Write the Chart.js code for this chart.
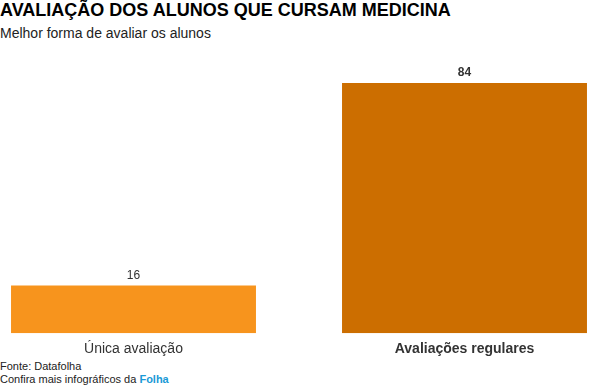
<!DOCTYPE html>
<html>
<head>
<meta charset="utf-8">
<script src="https://cdn.jsdelivr.net/npm/chart.js@4"></script>
<style>
  body { margin:0; width:590px; height:387px; overflow:hidden; background:#fff; position:relative; font-family:"Liberation Sans", Arial, sans-serif; }
  #title { position:absolute; left:0; top:0px; font-size:18px; font-weight:bold; color:#000; white-space:nowrap; }
  #sub { position:absolute; left:0; top:25px; font-size:14px; color:#222; white-space:nowrap; }
  #box { position:absolute; left:-32px; top:55px; width:662px; height:303px; }
  #foot { position:absolute; left:0; top:360px; font-size:11px; color:#222; line-height:13px; }
  #foot b { color:#1a9ad6; }
</style>
</head>
<body>
<div id="title">AVALIAÇÃO DOS ALUNOS QUE CURSAM MEDICINA</div>
<div id="sub">Melhor forma de avaliar os alunos</div>
<div id="box"><canvas id="mycanvas"></canvas></div>
<div id="foot">Fonte: Datafolha<br>Confira mais infográficos da <b>Folha</b></div>
<script>
var categories = ["Única avaliação", "Avaliações regulares"];
var values = [16, 84];
var barColors = ["#F7941D", "#CC6E00"];

// draws the value above each bar
var valueLabels = {
    id : "valueLabels",
    afterDatasetsDraw : function(chart){
        var ctx = chart.ctx;
        var meta = chart.getDatasetMeta(0);
        ctx.save();
        ctx.textAlign = "center";
        ctx.textBaseline = "bottom";
        ctx.fillStyle = "#333";
        meta.data.forEach(function(bar, i){
            ctx.font = (i == 1 ? "bold " : "") + "12px 'Liberation Sans', Arial, sans-serif";
            ctx.fillText(values[i], bar.x, bar.y - 4);
        });
        ctx.restore();
    }
};

var chardata = {
    labels : categories,
    datasets : [
        {
            data : values,
            backgroundColor : barColors,
            barPercentage : 1,
            categoryPercentage : 0.74
        }
    ]
};

var LineGraph = new Chart(document.getElementById("mycanvas"), {
    type : "bar",
    data : chardata,
    plugins : [valueLabels],
    options : {
        responsive : true,
        maintainAspectRatio : false,
        animation : false,
        layout : { padding : { top : 28, left : 0, right : 0, bottom : 0 } },
        plugins : { legend : { display : false }, tooltip : { enabled : false } },
        scales : {
            x : {
                grid : { display : false },
                border : { display : false },
                ticks : {
                    color : "#333",
                    padding : 0,
                    font : function(c){
                        return { family : "'Liberation Sans', Arial, sans-serif", size : 14, weight : c.index == 1 ? "bold" : "normal" };
                    }
                }
            },
            y : {
                display : false,
                min : 0,
                max : 84
            }
        }
    }
});
</script>
</body>
</html>
